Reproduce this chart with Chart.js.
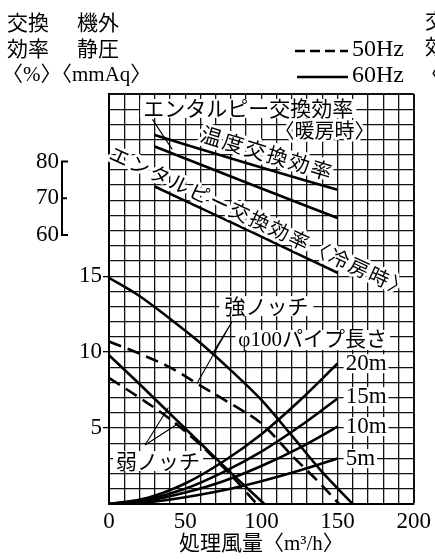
<!DOCTYPE html>
<html>
<head>
<meta charset="utf-8">
<script src="https://cdn.jsdelivr.net/npm/chart.js@4.4.1/dist/chart.umd.min.js"></script>
<style>
  html, body { margin: 0; padding: 0; background: #fff; }
  #wrap { position: relative; width: 435px; height: 559px; }
</style>
</head>
<body>
<div id="wrap"><canvas id="chart" width="435" height="559"></canvas></div>
<script>
// 機外静圧 <mmAq> vs 処理風量 <m3/h>
const strong60X = [0, 20, 40, 60, 80, 100, 120, 140, 160];
const strong60 = [14.9, 13.7, 12.2, 10.6, 8.8, 6.85, 4.5, 2.1, 0];
const strong50X = [0, 20, 40, 60, 80, 100, 120, 140, 151];
const strong50 = [10.7, 9.9, 9.0, 7.8, 6.6, 5.3, 3.2, 1.2, 0];
const weak60X = [0, 20, 40, 60, 80, 102];
const weak60 = [9.8, 7.9, 5.95, 4.0, 2.05, 0];
const weak50X = [0, 20, 40, 60, 80, 97];
const weak50 = [8.3, 7.0, 5.6, 3.9, 1.9, 0];

// φ100 パイプ抵抗
const pipeX = [0, 25, 50, 75, 100, 125, 150];
const pipe20m = [0, 0.4, 1.35, 2.8, 4.6, 6.8, 9.25];
const pipe15m = [0, 0.3, 1.0, 2.1, 3.45, 5.1, 6.95];
const pipe10m = [0, 0.2, 0.75, 1.5, 2.5, 3.7, 5.1];
const pipe5m = [0, 0.12, 0.45, 0.9, 1.5, 2.2, 3.0];

// 交換効率 <%>
const effX = [30, 90, 150];
const tempEff = [87.2, 79.6, 72.3];
const enthHeat = [84.1, 74.3, 64.6];
const enthCool = [73.2, 61.5, 49.7];

const xTicks = [0, 50, 100, 150, 200];
const yTicks = [5, 10, 15];
const effTicks = [60, 70, 80];

const SERIF = "'Liberation Serif', 'Noto Sans CJK JP', serif";
const JP = "'Noto Sans CJK JP', 'Liberation Serif', sans-serif";

const pts = (xs, ys) => xs.map((v, i) => ({ x: v, y: ys[i] }));

function line(label, xs, ys, dashed, axis) {
  return {
    label: label,
    data: pts(xs, ys),
    borderColor: "#000",
    borderWidth: 2.6,
    borderDash: dashed ? [13, 7] : [],
    pointRadius: 0,
    fill: false,
    tension: 0.4,
    cubicInterpolationMode: "monotone",
    yAxisID: axis || "y",
  };
}

function boxText(ctx, text, x, y, align, font, padX, h) {
  ctx.font = font;
  const w = ctx.measureText(text).width;
  const left = align === "left" ? x : x - w / 2;
  ctx.fillStyle = "#fff";
  ctx.fillRect(left - padX, y - h / 2, w + padX * 2, h);
  ctx.fillStyle = "#000";
  ctx.textAlign = "left";
  ctx.textBaseline = "middle";
  ctx.fillText(text, left, y);
}

function haloText(ctx, text, x, y, deg, font, spacing) {
  ctx.save();
  ctx.translate(x, y);
  ctx.rotate((deg * Math.PI) / 180);
  ctx.font = font;
  ctx.letterSpacing = spacing || "0px";
  ctx.textAlign = "center";
  ctx.textBaseline = "middle";
  ctx.lineJoin = "round";
  ctx.strokeStyle = "#fff";
  ctx.lineWidth = 6;
  ctx.strokeText(text, 0, 0);
  ctx.fillStyle = "#000";
  ctx.fillText(text, 0, 0);
  ctx.restore();
}

function thin(ctx, pairs) {
  ctx.save();
  ctx.strokeStyle = "#000";
  ctx.lineWidth = 1.1;
  ctx.beginPath();
  pairs.forEach(([a, b]) => {
    ctx.moveTo(a[0], a[1]);
    ctx.lineTo(b[0], b[1]);
  });
  ctx.stroke();
  ctx.restore();
}

const notes = {
  id: "notes",
  afterDatasetsDraw(chart) {
    const { ctx } = chart;
    const sx = chart.scales.x, sy = chart.scales.y, se = chart.scales.y2;
    const X = (v) => sx.getPixelForValue(v);
    const Y = (v) => sy.getPixelForValue(v);
    const E = (v) => se.getPixelForValue(v);

    // leaders
    thin(ctx, [
      [[X(28.5), E(91.5)], [X(41.5), E(83.3)]],
      [[X(80.7), Y(12.0)], [X(57.7), Y(7.94)]],
      [[X(80.7), Y(12.0)], [X(68.6), Y(10.0)]],
      [[X(23.7), Y(3.88)], [X(39), Y(6.35)]],
      [[X(23.7), Y(3.88)], [X(45.5), Y(5.3)]],
    ]);

    boxText(ctx, "エンタルピー交換効率", X(91.4), Y(26.05), "center", "21px " + JP, 3, 19);
    haloText(ctx, "〈暖房時〉", X(141.5), Y(24.6), 0, "20px " + JP);
    haloText(ctx, "温度交換効率", X(103.9), Y(23.1), 17, "21px " + JP, "2px");
    haloText(ctx, "エンタルピー交換効率〈冷房時〉", X(99.3), Y(18.6), 25, "20px " + JP, "2px");

    boxText(ctx, "強ノッチ", X(103.3), Y(13.03), "center", "21px " + JP, 5, 20);
    boxText(ctx, "φ100パイプ長さ", X(84.9), Y(10.8), "left", "21px " + SERIF, 3, 20);
    boxText(ctx, "20m", X(155.3), Y(9.24), "left", "23px " + SERIF, 2, 19);
    boxText(ctx, "15m", X(155.3), Y(7.07), "left", "23px " + SERIF, 2, 19);
    boxText(ctx, "10m", X(155.3), Y(5.1), "left", "23px " + SERIF, 2, 19);
    boxText(ctx, "5m", X(155.3), Y(2.99), "left", "23px " + SERIF, 2, 19);
    boxText(ctx, "弱ノッチ", X(32.2), Y(2.83), "center", "21px " + JP, 3, 20);
  },
  afterDraw(chart) {
    const { ctx } = chart;
    const se = chart.scales.y2;
    const E = (v) => se.getPixelForValue(v);

    // efficiency bracket axis
    const bx = 62;
    ctx.save();
    ctx.strokeStyle = "#000";
    ctx.lineWidth = 2;
    ctx.beginPath();
    ctx.moveTo(bx + 6, E(80));
    ctx.lineTo(bx, E(80));
    ctx.lineTo(bx, E(60));
    ctx.lineTo(bx + 6, E(60));
    ctx.moveTo(bx, E(70));
    ctx.lineTo(bx + 5, E(70));
    ctx.stroke();
    ctx.fillStyle = "#000";
    ctx.font = "23px " + SERIF;
    ctx.textAlign = "right";
    ctx.textBaseline = "middle";
    effTicks.forEach((t) => ctx.fillText(String(t), bx - 3, E(t)));

    // header
    ctx.textAlign = "left";
    ctx.font = "21px " + JP;
    ctx.fillText("交換", 7, 22);
    ctx.fillText("機外", 77, 22);
    ctx.fillText("効率", 7, 48);
    ctx.fillText("静圧", 77, 48);
    ctx.font = "21px " + SERIF;
    ctx.fillText("〈%〉〈mmAq〉", 2, 75);
    ctx.font = "21px " + JP;
    ctx.fillText("交", 425, 20);
    ctx.fillText("効", 425, 46);
    ctx.fillText("〈", 420, 73);

    // legend
    ctx.lineWidth = 2.6;
    ctx.setLineDash([10, 5]);
    ctx.beginPath();
    ctx.moveTo(295, 51);
    ctx.lineTo(348, 51);
    ctx.stroke();
    ctx.setLineDash([]);
    ctx.beginPath();
    ctx.moveTo(297, 77);
    ctx.lineTo(348, 77);
    ctx.stroke();
    ctx.font = "24px " + SERIF;
    ctx.fillText("50Hz", 352, 50);
    ctx.fillText("60Hz", 352, 76);
    ctx.restore();
  },
};

const edge = (max) => (c) => (c.tick && c.tick.value === max ? 2 : 1.3);

new Chart(document.getElementById("chart"), {
  type: "line",
  data: {
    datasets: [
      line("強ノッチ 60Hz", strong60X, strong60, false),
      line("強ノッチ 50Hz", strong50X, strong50, true),
      line("弱ノッチ 60Hz", weak60X, weak60, false),
      line("弱ノッチ 50Hz", weak50X, weak50, true),
      line("20m", pipeX, pipe20m, false),
      line("15m", pipeX, pipe15m, false),
      line("10m", pipeX, pipe10m, false),
      line("5m", pipeX, pipe5m, false),
      line("温度交換効率", effX, tempEff, false, "y2"),
      line("エンタルピー交換効率〈暖房時〉", effX, enthHeat, false, "y2"),
      line("エンタルピー交換効率〈冷房時〉", effX, enthCool, false, "y2"),
    ],
  },
  options: {
    responsive: false,
    animation: false,
    layout: { padding: { top: 94, right: 20, left: 0, bottom: 0 } },
    plugins: { legend: { display: false }, tooltip: { enabled: false } },
    scales: {
      x: {
        type: "linear",
        min: 0,
        max: 200,
        ticks: {
          stepSize: 10,
          autoSkip: false,
          maxRotation: 0,
          padding: 4,
          color: "#000",
          font: { family: SERIF, size: 23 },
          callback: (v) => (xTicks.includes(v) ? v : ""),
        },
        grid: { color: "#111", lineWidth: edge(200), drawTicks: false },
        border: { color: "#000", width: 2 },
        title: {
          display: true,
          text: "処理風量〈m³/h〉",
          color: "#000",
          font: { family: SERIF, size: 21 },
          padding: { top: 0, bottom: 2 },
        },
        afterFit: (s) => { s.height = 55; },
      },
      y: {
        min: 0,
        max: 27,
        ticks: {
          stepSize: 1,
          autoSkip: false,
          padding: 1,
          color: "#000",
          font: { family: SERIF, size: 23 },
          callback: (v) => (yTicks.includes(v) ? v : ""),
        },
        grid: {
          color: "#111",
          lineWidth: edge(27),
          tickLength: 6,
          tickColor: (c) => (c.tick && yTicks.includes(c.tick.value) ? "#000" : "rgba(0,0,0,0)"),
        },
        border: { color: "#000", width: 2 },
        afterFit: (s) => { s.width = 109; },
      },
      y2: { display: false, min: -13.3, max: 98.4 },
    },
  },
  plugins: [notes],
});
</script>
</body>
</html>
